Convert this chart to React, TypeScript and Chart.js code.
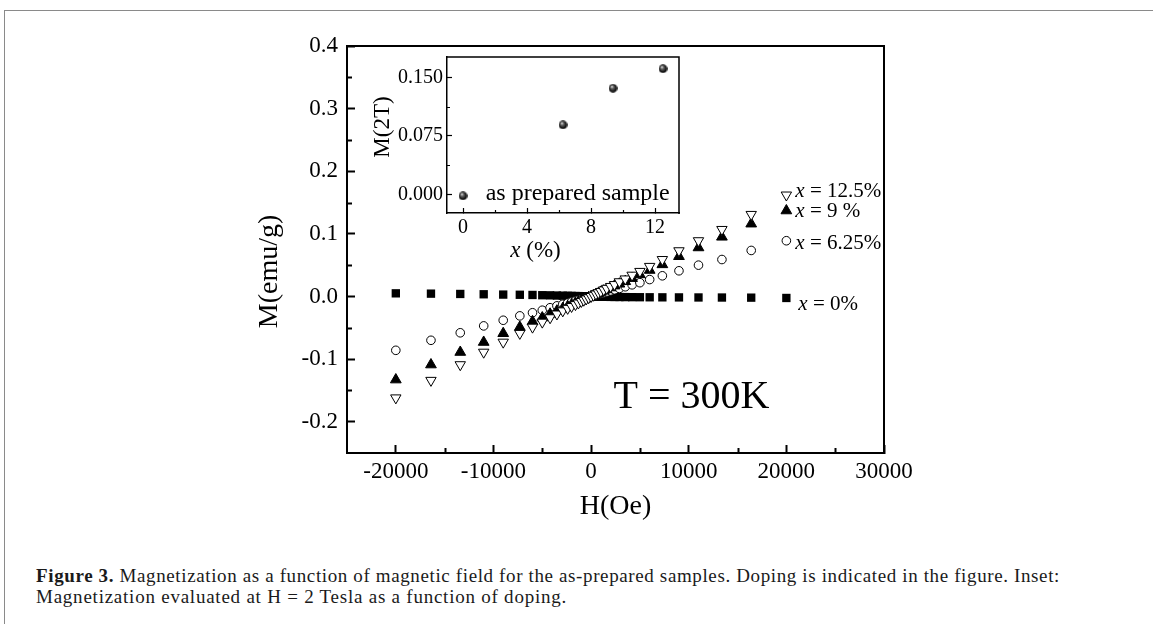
import React, { useEffect, useLayoutEffect, useRef } from 'react';
import { Chart, registerables } from 'chart.js';

Chart.register(...registerables);

const SERIF = '"Liberation Serif", "Times New Roman", serif';

// ---------- main plot data ----------
const FIELD_OE = [
  -20000, -16400, -13400, -11000, -9000, -7300, -6000, -5000, -4200, -3500, -2900, -2400, -2000,
  -1600, -1300, -1000, -750, -500, -250, 0, 250, 500, 750, 1000, 1300, 1600, 2000, 2400, 2900,
  3500, 4200, 5000, 6000, 7300, 9000, 11000, 13400, 16400, 20000,
];
const M_X125 = [
  -0.162, -0.134, -0.109, -0.089, -0.073, -0.059, -0.049, -0.041, -0.034, -0.028, -0.023, -0.019,
  -0.016, -0.013, -0.0105, -0.008, -0.006, -0.004, -0.002, 0.0, 0.002, 0.004, 0.006, 0.008, 0.0105,
  0.013, 0.016, 0.019, 0.0235, 0.028, 0.034, 0.04, 0.048, 0.059, 0.073, 0.089, 0.107, 0.131, 0.162,
];
const M_X9 = [
  -0.133, -0.109, -0.089, -0.073, -0.059, -0.049, -0.04, -0.034, -0.028, -0.023, -0.019, -0.016,
  -0.013, -0.011, -0.0088, -0.0068, -0.005, -0.0034, -0.0017, 0, 0.0017, 0.0034, 0.005, 0.007,
  0.009, 0.011, 0.014, 0.017, 0.02, 0.024, 0.029, 0.035, 0.042, 0.051, 0.064, 0.078, 0.095, 0.116,
  0.137,
];
const M_X625 = [
  -0.086, -0.07, -0.058, -0.047, -0.038, -0.031, -0.026, -0.022, -0.018, -0.015, -0.0125, -0.0104,
  -0.0087, -0.007, -0.0057, -0.0044, -0.0033, -0.0022, -0.0011, 0, 0.0011, 0.0022, 0.0033, 0.0044,
  0.0057, 0.007, 0.0088, 0.0106, 0.0128, 0.0155, 0.0186, 0.022, 0.027, 0.033, 0.041, 0.05, 0.059,
  0.0735, 0.089,
];
const M_X0 = [
  0.005, 0.0045, 0.004, 0.0035, 0.003, 0.0027, 0.0024, 0.002, 0.0018, 0.0015, 0.0013, 0.0011,
  0.0009, 0.0007, 0.0006, 0.0004, 0.0003, 0.0002, 0.0001, 0, -0.0001, -0.0002, -0.0003, -0.0004,
  -0.0005, -0.0006, -0.0007, -0.0008, -0.0009, -0.001, -0.0011, -0.0012, -0.0013, -0.0014, -0.0015,
  -0.0016, -0.0017, -0.0019, -0.0024,
];
const SERIES_TEXT = [' = 12.5%', ' = 9 %', ' = 6.25%', ' = 0%'];

const MAIN_X_TICKS = [-20000, -10000, 0, 10000, 20000, 30000];
const MAIN_X_MINOR = [-15000, -5000, 5000, 15000, 25000];
const MAIN_Y_TICKS = [-0.2, -0.1, 0, 0.1, 0.2, 0.3, 0.4];
const MAIN_Y_MINOR = [-0.15, -0.05, 0.05, 0.15, 0.25, 0.35];

// ---------- inset data ----------
const INSET_DOPING = [0, 6.25, 9.375, 12.5];
const INSET_M2T = [-0.002, 0.089, 0.136, 0.161];
const INSET_X_TICKS = [0, 4, 8, 12];
const INSET_X_MINOR = [2, 6, 10];
const INSET_Y_TICKS = [0, 0.075, 0.15];
const INSET_Y_MINOR = [0.0375, 0.1125];

const CAPTION_BOLD = 'Figure 3.';
const CAPTION_1 =
  ' Magnetization as a function of magnetic field for the as-prepared samples. Doping is indicated in the figure. Inset:';
const CAPTION_2 = 'Magnetization evaluated at H\u00a0=\u00a02 Tesla as a function of doping.';

function pts(xs: number[], ys: number[]) {
  return xs.map((x, i) => ({ x, y: ys[i] }));
}

function makeSphere(d: number) {
  const c = document.createElement('canvas');
  c.width = d;
  c.height = d;
  const g = c.getContext('2d')!;
  const r = d / 2;
  const grad = g.createRadialGradient(r * 0.72, r * 0.62, r * 0.05, r, r, r);
  grad.addColorStop(0, '#f0f0f0');
  grad.addColorStop(0.3, '#666');
  grad.addColorStop(0.75, '#151515');
  grad.addColorStop(1, '#000');
  g.fillStyle = grad;
  g.beginPath();
  g.arc(r, r, r - 0.2, 0, Math.PI * 2);
  g.fill();
  return c;
}

function drawXEq(ctx: CanvasRenderingContext2D, x: number, y: number, rest: string, size: number) {
  ctx.font = `italic ${size}px ${SERIF}`;
  ctx.fillText('x', x, y);
  const w = ctx.measureText('x').width;
  ctx.font = `${size}px ${SERIF}`;
  ctx.fillText(rest, x + w, y);
}

function minorTicks(chart: any, xv: number[], yv: number[], len: number, lw: number) {
  const ctx = chart.ctx as CanvasRenderingContext2D;
  const { left, bottom } = chart.chartArea;
  const xs = chart.scales.x;
  const ys = chart.scales.y;
  ctx.save();
  ctx.strokeStyle = '#000';
  ctx.lineWidth = lw;
  ctx.beginPath();
  xv.forEach((v) => {
    const p = Math.round(xs.getPixelForValue(v)) + 0.5;
    ctx.moveTo(p, bottom);
    ctx.lineTo(p, bottom - len);
  });
  yv.forEach((v) => {
    const p = Math.round(ys.getPixelForValue(v)) + 0.5;
    ctx.moveTo(left, p);
    ctx.lineTo(left + len, p);
  });
  ctx.stroke();
  ctx.restore();
}

const mainDecor = {
  id: 'mainDecor',
  afterDraw(chart: any) {
    const ctx = chart.ctx as CanvasRenderingContext2D;
    const { left, right, top, bottom } = chart.chartArea;
    const xs = chart.scales.x;
    const ys = chart.scales.y;
    ctx.save();
    ctx.strokeStyle = '#000';
    ctx.lineWidth = 2;
    ctx.beginPath();
    ctx.moveTo(left - 1, top);
    ctx.lineTo(right, top);
    ctx.lineTo(right, bottom + 1);
    ctx.stroke();
    ctx.restore();

    minorTicks(chart, MAIN_X_MINOR, MAIN_Y_MINOR, 5, 2);

    ctx.save();
    ctx.fillStyle = '#000';
    ctx.textAlign = 'center';
    ctx.textBaseline = 'middle';
    ctx.font = `28px ${SERIF}`;
    ctx.fillText('H(Oe)', (left + right) / 2, bottom + 54);
    ctx.translate(left - 77, (top + bottom) / 2 + 22);
    ctx.rotate(-Math.PI / 2);
    ctx.fillText('M(emu/g)', 0, 0);
    ctx.restore();

    // series labels next to the H = 20000 points
    const series = [M_X125, M_X9, M_X625, M_X0];
    const dx = [9, 9, 9, 12];
    const dy = [-4, 1, 3, 7];
    const last = FIELD_OE.length - 1;
    ctx.save();
    ctx.fillStyle = '#000';
    ctx.textAlign = 'left';
    ctx.textBaseline = 'middle';
    series.forEach((s, i) => {
      const px = xs.getPixelForValue(FIELD_OE[last]) + dx[i];
      const py = ys.getPixelForValue(s[last]) + dy[i];
      drawXEq(ctx, px, py, SERIES_TEXT[i], 21);
    });
    ctx.textBaseline = 'alphabetic';
    ctx.font = `40px ${SERIF}`;
    ctx.fillText('T = 300K', xs.getPixelForValue(2300), ys.getPixelForValue(-0.178));
    ctx.restore();
  },
};

const insetDecor = {
  id: 'insetDecor',
  afterDraw(chart: any) {
    const ctx = chart.ctx as CanvasRenderingContext2D;
    const { left, right, top, bottom } = chart.chartArea;
    const xs = chart.scales.x;
    const ys = chart.scales.y;
    ctx.save();
    ctx.strokeStyle = '#000';
    ctx.lineWidth = 1.5;
    ctx.beginPath();
    ctx.moveTo(left - 1, top);
    ctx.lineTo(right, top);
    ctx.lineTo(right, bottom + 1);
    ctx.stroke();
    ctx.restore();

    minorTicks(chart, INSET_X_MINOR, INSET_Y_MINOR, 3, 1.2);

    ctx.save();
    ctx.fillStyle = '#000';
    ctx.textBaseline = 'middle';
    ctx.textAlign = 'center';
    ctx.font = `23px ${SERIF}`;
    ctx.save();
    ctx.translate(left - 64.5, (top + bottom) / 2 - 8);
    ctx.rotate(-Math.PI / 2);
    ctx.fillText('M(2T)', 0, 0);
    ctx.restore();

    // x (%)
    ctx.textAlign = 'left';
    ctx.font = `italic 23px ${SERIF}`;
    const wx = ctx.measureText('x').width;
    ctx.font = `23px ${SERIF}`;
    const wr = ctx.measureText(' (%)').width;
    const cx = (left + right) / 2 - 27.5;
    drawXEq(ctx, cx - (wx + wr) / 2, bottom + 38, ' (%)', 23);

    ctx.font = `24px ${SERIF}`;
    ctx.fillText('as prepared sample', xs.getPixelForValue(1.42), ys.getPixelForValue(0.001));
    ctx.restore();
  },
};

export default function App() {
  const mainRef = useRef<HTMLCanvasElement>(null);
  const insetRef = useRef<HTMLCanvasElement>(null);
  const cap1Ref = useRef<HTMLDivElement>(null);
  const cap2Ref = useRef<HTMLDivElement>(null);

  useLayoutEffect(() => {
    const fits: [React.RefObject<HTMLDivElement>, number][] = [
      [cap1Ref, 1024],
      [cap2Ref, 531],
    ];
    fits.forEach(([r, target]) => {
      const el = r.current;
      if (!el) return;
      el.style.letterSpacing = '0px';
      const w = el.getBoundingClientRect().width;
      const n = (el.textContent || '').length;
      el.style.letterSpacing = (target - w) / n + 'px';
    });
  }, []);

  useEffect(() => {
    Chart.defaults.font.family = SERIF;
    Chart.defaults.color = '#000';

    const main = new Chart(mainRef.current!, {
      type: 'scatter',
      data: {
        datasets: [
          {
            label: 'x = 12.5%',
            data: pts(FIELD_OE, M_X125),
            pointStyle: 'triangle',
            rotation: 180,
            pointRadius: 6,
            backgroundColor: '#fff',
            borderColor: '#000',
            borderWidth: 1,
          },
          {
            label: 'x = 9 %',
            data: pts(FIELD_OE, M_X9),
            pointStyle: 'triangle',
            pointRadius: 6.2,
            backgroundColor: '#000',
            borderColor: '#000',
            borderWidth: 1,
          },
          {
            label: 'x = 6.25%',
            data: pts(FIELD_OE, M_X625),
            pointStyle: 'circle',
            pointRadius: 4.3,
            backgroundColor: '#fff',
            borderColor: '#000',
            borderWidth: 1,
          },
          {
            label: 'x = 0%',
            data: pts(FIELD_OE, M_X0),
            pointStyle: 'rect',
            pointRadius: 5.9,
            backgroundColor: '#000',
            borderColor: '#000',
            borderWidth: 0,
          },
        ] as any,
      },
      options: {
        responsive: false,
        animation: false,
        devicePixelRatio: 1,
        layout: { padding: { left: 0, top: 46, right: 269, bottom: 0 } },
        plugins: { legend: { display: false }, tooltip: { enabled: false } },
        scales: {
          x: {
            type: 'linear',
            min: -25000,
            max: 30000,
            afterBuildTicks: (s: any) => {
              s.ticks = MAIN_X_TICKS.map((v) => ({ value: v }));
            },
            afterFit: (s: any) => {
              s.height = 87;
            },
            ticks: {
              autoSkip: false,
              maxRotation: 0,
              padding: 13,
              font: { size: 23, family: SERIF },
              color: '#000',
              callback: (v: any) => String(v),
            },
            grid: { drawOnChartArea: false, drawTicks: true, tickLength: -8, tickWidth: 2, tickColor: '#000' },
            border: { display: true, color: '#000', width: 2 },
          },
          y: {
            type: 'linear',
            min: -0.25,
            max: 0.4,
            afterBuildTicks: (s: any) => {
              s.ticks = MAIN_Y_TICKS.map((v) => ({ value: v }));
            },
            afterFit: (s: any) => {
              s.width = 347;
            },
            ticks: {
              autoSkip: false,
              padding: 17,
              font: { size: 23, family: SERIF },
              color: '#000',
              callback: (v: any) => Number(v).toFixed(1),
            },
            grid: { drawOnChartArea: false, drawTicks: true, tickLength: -8, tickWidth: 2, tickColor: '#000' },
            border: { display: true, color: '#000', width: 2 },
          },
        },
      } as any,
      plugins: [mainDecor],
    });

    const sphere = makeSphere(9);
    const inset = new Chart(insetRef.current!, {
      type: 'scatter',
      data: {
        datasets: [
          {
            label: 'M(2T)',
            data: pts(INSET_DOPING, INSET_M2T),
            pointStyle: sphere,
            pointRadius: 4.5,
          },
        ] as any,
      },
      options: {
        responsive: false,
        animation: false,
        devicePixelRatio: 1,
        layout: { padding: { left: 0, top: 10, right: 11, bottom: 0 } },
        plugins: { legend: { display: false }, tooltip: { enabled: false } },
        scales: {
          x: {
            type: 'linear',
            min: -1,
            max: 13.5,
            afterBuildTicks: (s: any) => {
              s.ticks = INSET_X_TICKS.map((v) => ({ value: v }));
            },
            afterFit: (s: any) => {
              s.height = 57;
            },
            ticks: {
              autoSkip: false,
              maxRotation: 0,
              padding: 8,
              font: { size: 20, family: SERIF },
              color: '#000',
              callback: (v: any) => String(v),
            },
            grid: { drawOnChartArea: false, drawTicks: true, tickLength: -5, tickWidth: 1.2, tickColor: '#000' },
            border: { display: true, color: '#000', width: 1.5 },
          },
          y: {
            type: 'linear',
            min: -0.024,
            max: 0.176,
            afterBuildTicks: (s: any) => {
              s.ticks = INSET_Y_TICKS.map((v) => ({ value: v }));
            },
            afterFit: (s: any) => {
              s.width = 107;
            },
            ticks: {
              autoSkip: false,
              padding: 9,
              font: { size: 20, family: SERIF },
              color: '#000',
              callback: (v: any) => Number(v).toFixed(3),
            },
            grid: { drawOnChartArea: false, drawTicks: true, tickLength: -5, tickWidth: 1.2, tickColor: '#000' },
            border: { display: true, color: '#000', width: 1.5 },
          },
        },
      } as any,
      plugins: [insetDecor],
    });

    return () => {
      main.destroy();
      inset.destroy();
    };
  }, []);

  const capStyle: React.CSSProperties = {
    position: 'absolute',
    left: 36,
    whiteSpace: 'nowrap',
    fontFamily: SERIF,
    fontSize: 19,
    lineHeight: '21px',
    color: '#1a1a1a',
  };

  return (
    <div
      style={{
        position: 'absolute',
        left: 0,
        top: 0,
        width: 1153,
        height: 624,
        background: '#fff',
        overflow: 'hidden',
      }}
    >
      <div
        style={{
          position: 'absolute',
          left: 4,
          top: 10,
          width: 1200,
          height: 700,
          borderTop: '1px solid #8a8a8a',
          borderLeft: '1px solid #8a8a8a',
        }}
      />
      <canvas
        ref={mainRef}
        width={1153}
        height={540}
        style={{ position: 'absolute', left: 0, top: 0, width: 1153, height: 540 }}
      />
      <canvas
        ref={insetRef}
        width={350}
        height={234}
        style={{ position: 'absolute', left: 340, top: 36, width: 350, height: 234 }}
      />
      <div ref={cap1Ref} style={{ ...capStyle, top: 565 }}>
        <b>{CAPTION_BOLD}</b>
        {CAPTION_1}
      </div>
      <div ref={cap2Ref} style={{ ...capStyle, top: 586 }}>
        {CAPTION_2}
      </div>
    </div>
  );
}
